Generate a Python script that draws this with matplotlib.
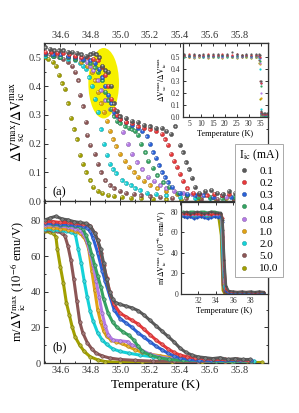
import matplotlib
matplotlib.use('Agg')
import matplotlib.pyplot as plt
import matplotlib.colors as mcolors
import matplotlib.transforms as mtransforms
from matplotlib.patches import Ellipse
from matplotlib.lines import Line2D
from matplotlib.ticker import MultipleLocator

plt.rcParams['font.family'] = ['Liberation Serif', 'DejaVu Serif']
plt.rcParams['mathtext.fontset'] = 'stix'

# legend labels / colours
labels = ['0.1', '0.2', '0.3', '0.4', '0.8', '1.0', '2.0', '5.0', '10.0']
colors = ['#5a5a5a', '#e8383a', '#2a62d8', '#34a462', '#b57ae6',
          '#e0a214', '#14d2d8', '#8c5656', '#a2a000']

# ---- panel (a): dV_sc/dV_ic vs T ----
a_t_01 = [34.50, 34.53, 34.56, 34.59, 34.62, 34.65, 34.68, 34.71, 34.74, 34.77,
          34.80, 34.82, 34.84, 34.86, 34.88, 34.90, 34.92, 34.94, 34.96, 34.98,
          35.00, 35.04, 35.08, 35.12, 35.16, 35.20, 35.24, 35.28, 35.31, 35.34,
          35.37, 35.40, 35.42, 35.44, 35.46, 35.48, 35.50, 35.53, 35.57, 35.61,
          35.65, 35.69, 35.73, 35.77, 35.81, 35.85]
a_v_01 = [0.535, 0.53, 0.525, 0.525, 0.525, 0.52, 0.52, 0.515, 0.51, 0.505,
          0.51, 0.515, 0.51, 0.50, 0.47, 0.455, 0.45, 0.40, 0.34, 0.315,
          0.295, 0.29, 0.28, 0.275, 0.265, 0.26, 0.255, 0.255, 0.245, 0.235,
          0.26, 0.195, 0.17, 0.135, 0.11, 0.08, 0.05, 0.03, 0.035, 0.04,
          0.03, 0.025, 0.035, 0.03, 0.035, 0.03]
a_t_02 = [34.50, 34.54, 34.58, 34.62, 34.66, 34.70, 34.74, 34.78, 34.82, 34.85,
          34.88, 34.90, 34.92, 34.94, 34.96, 34.98, 35.00, 35.04, 35.08, 35.12,
          35.16, 35.20, 35.24, 35.28, 35.30, 35.32, 35.34, 35.36, 35.38, 35.40,
          35.42, 35.45, 35.49, 35.53, 35.58, 35.63, 35.68, 35.73, 35.78, 35.83]
a_v_02 = [0.52, 0.52, 0.515, 0.515, 0.51, 0.505, 0.50, 0.50, 0.495, 0.49,
          0.465, 0.44, 0.40, 0.355, 0.32, 0.30, 0.285, 0.275, 0.27, 0.26,
          0.255, 0.25, 0.245, 0.235, 0.215, 0.195, 0.165, 0.14, 0.12, 0.095,
          0.07, 0.045, 0.03, 0.025, 0.02, 0.025, 0.02, 0.025, 0.02, 0.025]
a_t_03 = [34.50, 34.55, 34.60, 34.65, 34.70, 34.75, 34.80, 34.83, 34.86, 34.88,
          34.90, 34.92, 34.94, 34.96, 34.98, 35.00, 35.04, 35.08, 35.12, 35.15,
          35.18, 35.20, 35.22, 35.24, 35.26, 35.28, 35.30, 35.32, 35.35, 35.40,
          35.45, 35.50, 35.56, 35.62, 35.68, 35.74, 35.80, 35.86]
a_v_03 = [0.515, 0.51, 0.51, 0.505, 0.50, 0.495, 0.49, 0.48, 0.46, 0.43,
          0.40, 0.37, 0.34, 0.31, 0.295, 0.285, 0.275, 0.265, 0.255, 0.245,
          0.225, 0.20, 0.17, 0.15, 0.125, 0.10, 0.083, 0.066, 0.05, 0.03,
          0.025, 0.02, 0.02, 0.015, 0.02, 0.015, 0.02, 0.015]
a_t_04 = [34.50, 34.55, 34.60, 34.65, 34.70, 34.75, 34.80, 34.83, 34.85, 34.88,
          34.90, 34.92, 34.94, 34.96, 34.98, 35.00, 35.03, 35.06, 35.08, 35.10,
          35.12, 35.14, 35.17, 35.19, 35.22, 35.25, 35.29, 35.33, 35.39, 35.45,
          35.52, 35.60, 35.68, 35.76, 35.84]
a_v_04 = [0.51, 0.505, 0.50, 0.50, 0.495, 0.49, 0.48, 0.465, 0.45, 0.42,
          0.38, 0.35, 0.32, 0.295, 0.28, 0.27, 0.26, 0.255, 0.25, 0.245,
          0.23, 0.20, 0.17, 0.14, 0.115, 0.09, 0.066, 0.05, 0.03, 0.02,
          0.015, 0.015, 0.01, 0.015, 0.01]
a_t_08 = [34.50, 34.55, 34.60, 34.65, 34.70, 34.74, 34.78, 34.80, 34.82, 34.85,
          34.87, 34.90, 34.93, 34.96, 34.99, 35.02, 35.05, 35.08, 35.11, 35.15,
          35.19, 35.23, 35.27, 35.31, 35.36, 35.42, 35.48, 35.55, 35.63, 35.71,
          35.79, 35.87]
a_v_08 = [0.51, 0.51, 0.505, 0.50, 0.50, 0.495, 0.485, 0.47, 0.455, 0.42,
          0.385, 0.35, 0.32, 0.30, 0.275, 0.24, 0.20, 0.165, 0.135, 0.11,
          0.085, 0.07, 0.055, 0.045, 0.035, 0.03, 0.025, 0.02, 0.015, 0.015,
          0.015, 0.015]
a_t_10 = [34.50, 34.55, 34.60, 34.65, 34.70, 34.74, 34.78, 34.81, 34.83, 34.85,
          34.87, 34.89, 34.91, 34.93, 34.95, 34.97, 35.00, 35.03, 35.06, 35.09,
          35.12, 35.16, 35.20, 35.25, 35.31, 35.38, 35.45, 35.53, 35.62, 35.71,
          35.80, 35.88]
a_v_10 = [0.51, 0.51, 0.505, 0.50, 0.495, 0.485, 0.47, 0.45, 0.42, 0.38,
          0.34, 0.31, 0.28, 0.245, 0.215, 0.19, 0.165, 0.14, 0.12, 0.10,
          0.085, 0.07, 0.055, 0.045, 0.035, 0.025, 0.02, 0.015, 0.015, 0.012,
          0.012, 0.012]
a_t_20 = [34.50, 34.55, 34.60, 34.65, 34.70, 34.73, 34.75, 34.77, 34.79, 34.81,
          34.83, 34.85, 34.87, 34.89, 34.91, 34.93, 34.95, 34.97, 35.01, 35.04,
          35.07, 35.10, 35.13, 35.18, 35.24, 35.31, 35.40, 35.50, 35.60, 35.70,
          35.80, 35.90]
a_v_20 = [0.505, 0.505, 0.50, 0.495, 0.49, 0.48, 0.47, 0.46, 0.43, 0.40,
          0.355, 0.31, 0.25, 0.20, 0.16, 0.13, 0.11, 0.097, 0.073, 0.062,
          0.055, 0.045, 0.038, 0.03, 0.025, 0.02, 0.015, 0.012, 0.01, 0.01,
          0.01, 0.01]
a_t_50 = [34.50, 34.53, 34.56, 34.59, 34.62, 34.65, 34.68, 34.70, 34.72, 34.73,
          34.75, 34.77, 34.78, 34.80, 34.83, 34.85, 34.87, 34.90, 34.93, 34.96,
          35.00, 35.04, 35.09, 35.14, 35.20, 35.27, 35.35, 35.44, 35.54, 35.65,
          35.76, 35.87]
a_v_50 = [0.51, 0.51, 0.505, 0.50, 0.495, 0.485, 0.47, 0.45, 0.42, 0.37,
          0.33, 0.275, 0.23, 0.195, 0.165, 0.13, 0.10, 0.073, 0.055, 0.045,
          0.035, 0.03, 0.025, 0.02, 0.017, 0.015, 0.012, 0.01, 0.008, 0.008,
          0.008, 0.008]
a_t_100 = [34.50, 34.52, 34.55, 34.57, 34.59, 34.61, 34.63, 34.65, 34.67, 34.69,
           34.71, 34.73, 34.75, 34.77, 34.80, 34.82, 34.85, 34.88, 34.92, 34.96,
           35.01, 35.07, 35.14, 35.22, 35.31, 35.41, 35.52, 35.64, 35.76, 35.88]
a_v_100 = [0.50, 0.495, 0.485, 0.47, 0.44, 0.41, 0.39, 0.34, 0.29, 0.25,
           0.215, 0.16, 0.13, 0.10, 0.073, 0.05, 0.035, 0.028, 0.022, 0.018,
           0.015, 0.012, 0.01, 0.008, 0.006, 0.005, 0.005, 0.005, 0.005, 0.005]

# inset of (a), wide temperature range
ia_t = [3, 5, 7, 9, 11, 13, 15, 17, 19, 21, 23, 25, 27, 29, 31, 33,
        34.2, 34.7, 35.0, 35.3, 35.7, 36.3, 36.9, 37.5]
ia_v_01 = [0.53, 0.52, 0.53, 0.52, 0.53, 0.52, 0.53, 0.53, 0.52, 0.53, 0.54, 0.53, 0.52, 0.53, 0.53, 0.53,
           0.53, 0.52, 0.30, 0.05, 0.03, 0.03, 0.035, 0.03]
ia_v_02 = [0.52, 0.53, 0.52, 0.52, 0.52, 0.53, 0.52, 0.52, 0.53, 0.52, 0.52, 0.53, 0.52, 0.52, 0.52, 0.52,
           0.52, 0.50, 0.28, 0.04, 0.025, 0.02, 0.025, 0.02]
ia_v_03 = [0.52, 0.51, 0.52, 0.52, 0.51, 0.52, 0.51, 0.52, 0.51, 0.52, 0.51, 0.52, 0.51, 0.52, 0.51, 0.52,
           0.51, 0.49, 0.28, 0.03, 0.02, 0.02, 0.015, 0.02]
ia_v_04 = [0.51, 0.51, 0.51, 0.52, 0.51, 0.51, 0.51, 0.51, 0.52, 0.51, 0.51, 0.51, 0.52, 0.51, 0.51, 0.51,
           0.51, 0.47, 0.26, 0.02, 0.015, 0.01, 0.015, 0.01]
ia_v_08 = [0.51, 0.51, 0.50, 0.51, 0.51, 0.50, 0.51, 0.51, 0.50, 0.51, 0.51, 0.50, 0.51, 0.51, 0.50, 0.51,
           0.50, 0.45, 0.20, 0.02, 0.015, 0.015, 0.015, 0.015]
ia_v_10 = [0.51, 0.50, 0.51, 0.50, 0.51, 0.51, 0.50, 0.51, 0.50, 0.51, 0.50, 0.51, 0.51, 0.50, 0.51, 0.50,
           0.50, 0.44, 0.16, 0.015, 0.012, 0.012, 0.012, 0.012]
ia_v_20 = [0.50, 0.51, 0.50, 0.50, 0.50, 0.51, 0.50, 0.50, 0.51, 0.50, 0.50, 0.50, 0.51, 0.50, 0.50, 0.50,
           0.49, 0.40, 0.07, 0.01, 0.01, 0.01, 0.01, 0.01]
ia_v_50 = [0.51, 0.50, 0.50, 0.51, 0.50, 0.50, 0.51, 0.50, 0.50, 0.51, 0.50, 0.50, 0.50, 0.51, 0.50, 0.50,
           0.48, 0.30, 0.03, 0.01, 0.008, 0.008, 0.008, 0.008]
ia_v_100 = [0.50, 0.50, 0.49, 0.50, 0.50, 0.49, 0.50, 0.50, 0.49, 0.50, 0.50, 0.49, 0.50, 0.50, 0.49, 0.50,
            0.45, 0.15, 0.015, 0.008, 0.005, 0.005, 0.005, 0.005]

# ---- panel (b): m/dV_ic vs T ----
b_t_01 = [34.50, 34.53, 34.57, 34.61, 34.65, 34.69, 34.73, 34.77, 34.80, 34.83,
          34.85, 34.87, 34.89, 34.91, 34.93, 34.95, 34.97, 35.00, 35.04, 35.08,
          35.12, 35.16, 35.20, 35.24, 35.28, 35.32, 35.36, 35.40, 35.44, 35.48,
          35.52, 35.57, 35.62, 35.67, 35.72, 35.77, 35.82, 35.87]
b_m_01 = [80.5, 81.5, 82.5, 81, 80.5, 79.5, 79, 78.5, 77, 73,
          69, 64, 56, 47, 40, 36, 34, 33, 32, 31,
          29.5, 27, 24, 21, 18, 15, 12, 8.5, 6, 4.5,
          3.5, 3, 2.5, 3, 2, 2.5, 2, 2]
b_t_02 = [34.50, 34.55, 34.60, 34.65, 34.70, 34.75, 34.78, 34.80, 34.83, 34.85,
          34.87, 34.89, 34.91, 34.93, 34.96, 35.00, 35.04, 35.08, 35.12, 35.16,
          35.20, 35.24, 35.28, 35.32, 35.36, 35.40, 35.45, 35.50, 35.56, 35.63,
          35.70, 35.78, 35.86]
b_m_02 = [79.5, 79.5, 79, 79, 78.5, 78, 78, 77, 73, 69,
          62, 55, 48, 40, 33, 28, 26, 24, 22, 19,
          16, 13, 10.5, 8, 6, 4.5, 3.5, 3, 2.5, 2,
          2, 2, 1.5]
b_t_03 = [34.50, 34.55, 34.60, 34.65, 34.70, 34.75, 34.78, 34.80, 34.82, 34.85,
          34.88, 34.90, 34.93, 34.96, 35.00, 35.04, 35.08, 35.12, 35.16, 35.20,
          35.24, 35.28, 35.32, 35.36, 35.40, 35.46, 35.53, 35.61, 35.70, 35.80,
          35.88]
b_m_03 = [78.5, 78.5, 78, 78, 77.5, 77, 76, 74, 70, 62,
          52, 46, 38, 30, 25, 22.5, 20, 17, 14.5, 12,
          9.5, 7.5, 5.5, 4, 3, 2, 1.5, 1.5, 1.5, 1.5,
          1.5]
b_t_04 = [34.50, 34.55, 34.60, 34.65, 34.70, 34.73, 34.75, 34.77, 34.79, 34.81,
          34.83, 34.85, 34.87, 34.89, 34.92, 34.95, 34.98, 35.02, 35.06, 35.09,
          35.12, 35.15, 35.20, 35.26, 35.33, 35.42, 35.52, 35.64, 35.76, 35.88]
b_m_04 = [78.5, 78, 77.5, 77.5, 77, 76.5, 75.5, 72, 67.5, 61,
          55, 49, 43, 36, 28, 23, 20, 17.5, 15.5, 13,
          9.5, 6.5, 4.5, 3, 2, 1.5, 1.5, 1, 1, 1]
b_t_08 = [34.50, 34.55, 34.60, 34.65, 34.70, 34.73, 34.76, 34.78, 34.80, 34.82,
          34.84, 34.86, 34.88, 34.90, 34.92, 34.95, 35.00, 35.05, 35.08, 35.11,
          35.15, 35.20, 35.26, 35.33, 35.42, 35.52, 35.64, 35.76, 35.88]
b_m_08 = [77.5, 77.5, 77, 76.5, 75.5, 74.5, 72, 68, 62, 55,
          46, 37, 28, 21, 16, 13, 12.5, 12, 10, 9.5,
          7, 5, 3.5, 2.5, 2, 1.5, 1, 1, 1]
b_t_10 = [34.50, 34.55, 34.60, 34.65, 34.70, 34.73, 34.75, 34.77, 34.79, 34.81,
          34.83, 34.85, 34.87, 34.89, 34.91, 34.94, 34.97, 35.01, 35.05, 35.10,
          35.15, 35.20, 35.27, 35.35, 35.45, 35.57, 35.70, 35.85]
b_m_10 = [76.5, 76, 75.5, 75, 74, 73, 71.5, 69, 64, 52,
          41, 30, 23, 18, 15, 13, 12, 11, 9.5, 7.5,
          6, 5, 4, 3, 2, 1.5, 1, 1]
b_t_20 = [34.50, 34.55, 34.60, 34.64, 34.67, 34.70, 34.72, 34.74, 34.76, 34.78,
          34.80, 34.82, 34.85, 34.88, 34.91, 34.95, 35.00, 35.06, 35.13, 35.22,
          35.33, 35.46, 35.60, 35.75, 35.90]
b_m_20 = [75.5, 75, 74.5, 74, 73.5, 72.5, 64, 56, 46, 37,
          29, 23.5, 17, 13, 10.5, 8, 6.5, 5.5, 4.5, 3.5,
          2.5, 2, 1.5, 1, 1]
b_t_50 = [34.50, 34.54, 34.58, 34.61, 34.63, 34.65, 34.67, 34.69, 34.71, 34.73,
          34.75, 34.78, 34.81, 34.84, 34.88, 34.93, 35.00, 35.10, 35.22, 35.36,
          35.52, 35.70, 35.88]
b_m_50 = [75, 74.5, 74, 73, 71.5, 66, 58, 47, 35, 23,
          17, 11.5, 8, 5.5, 4, 2.8, 2, 1.5, 1, 1,
          0.8, 0.8, 0.8]
b_t_100 = [34.50, 34.53, 34.55, 34.57, 34.58, 34.60, 34.62, 34.64, 34.66, 34.68,
           34.70, 34.73, 34.76, 34.80, 34.85, 34.90, 35.00, 35.15, 35.35, 35.55,
           35.75, 35.95]
b_m_100 = [74, 73.5, 73, 71, 64, 54, 45, 34, 27, 20,
           14.5, 10, 6.5, 3.5, 1.8, 0.8, 0.4, 0.3, 0.3, 0.3,
           0.3, 0.3]

# inset of (b)
ib_t = [30.3, 30.7, 31.1, 31.5, 31.9, 32.3, 32.7, 33.1, 33.5, 33.9, 34.3, 34.6,
        34.8, 35.0, 35.2, 35.5, 36.0, 36.5, 37.0, 37.5, 38.0, 38.5, 39.0, 39.5]
ib_m_01 = [79, 80, 78, 79, 80, 79, 78, 79, 80, 79, 79, 79, 72, 33, 8, 3, 2.5, 2, 2.5, 2, 2.5, 2, 2.5, 2]
ib_m_02 = [78, 78, 77, 78, 78, 77, 78, 78, 77, 78, 78, 78, 74, 27, 5, 2.5, 2, 2, 2, 2, 2, 1.5, 2, 2]
ib_m_03 = [75, 74, 75, 73, 74, 75, 74, 73, 74, 75, 74, 76, 70, 22, 3, 1.5, 1.5, 1.5, 1.5, 1.5, 1.5, 1.5, 1.5, 1.5]
ib_m_04 = [80, 79, 80, 80, 79, 80, 80, 79, 80, 80, 79, 78, 62, 17, 3, 1.5, 1.5, 1, 1, 1, 1, 1, 1, 1]
ib_m_08 = [77, 77, 77, 77, 77, 77, 77, 77, 77, 77, 77, 76, 56, 12, 5, 1.5, 1, 1, 1, 1, 1, 1, 1, 1]
ib_m_10 = [77, 77, 77, 77, 77, 77, 77, 77, 77, 77, 77, 75, 55, 10, 6, 2, 1, 1, 1, 1, 1, 1, 1, 1]
ib_m_20 = [76, 76, 76, 76, 76, 76, 76, 76, 76, 76, 76, 74, 35, 6.5, 4, 2, 1, 1, 1, 1, 1, 1, 1, 1]
ib_m_50 = [76, 76, 76, 76, 76, 76, 76, 76, 76, 76, 76, 73, 9, 2, 1.5, 1, 0.8, 0.8, 0.8, 0.8, 0.8, 0.8, 0.8, 0.8]
ib_m_100 = [75, 75, 75, 75, 75, 75, 75, 75, 75, 75, 75, 57, 3.5, 0.4, 0.3, 0.3, 0.3, 0.3, 0.3, 0.3, 0.3, 0.3, 0.3, 0.3]

a_series = [(a_t_01, a_v_01), (a_t_02, a_v_02), (a_t_03, a_v_03), (a_t_04, a_v_04), (a_t_08, a_v_08),
            (a_t_10, a_v_10), (a_t_20, a_v_20), (a_t_50, a_v_50), (a_t_100, a_v_100)]
b_series = [(b_t_01, b_m_01), (b_t_02, b_m_02), (b_t_03, b_m_03), (b_t_04, b_m_04), (b_t_08, b_m_08),
            (b_t_10, b_m_10), (b_t_20, b_m_20), (b_t_50, b_m_50), (b_t_100, b_m_100)]
ia_series = [ia_v_01, ia_v_02, ia_v_03, ia_v_04, ia_v_08, ia_v_10, ia_v_20, ia_v_50, ia_v_100]
ib_series = [ib_m_01, ib_m_02, ib_m_03, ib_m_04, ib_m_08, ib_m_10, ib_m_20, ib_m_50, ib_m_100]


def mix(c, other, f):
    r, g, b = mcolors.to_rgb(c)
    o = mcolors.to_rgb(other)
    return (r + (o[0] - r) * f, g + (o[1] - g) * f, b + (o[2] - b) * f)


def balls(ax, x, y, c, ms, z=3):
    # shaded sphere look: body + small highlight up-left
    ax.plot(x, y, 'o', ms=ms, mfc=c, mec=mix(c, 'black', 0.35), mew=0.3, ls='none', zorder=z)
    hl = mtransforms.offset_copy(ax.transData, fig=fig, x=-ms * 0.15, y=ms * 0.15, units='points')
    ax.plot(x, y, 'o', ms=ms * 0.4, mfc=mix(c, 'white', 0.6), mec='none', ls='none',
            transform=hl, zorder=z + 0.1)


def style(ax, size, major=3.0, minor=1.6):
    for s in ax.spines.values():
        s.set_linewidth(0.9)
        s.set_color('#333333')
    ax.tick_params(which='both', direction='in', top=True, right=True, width=0.7,
                   labelsize=size, colors='#333333', pad=2)
    ax.tick_params(which='major', length=major)
    ax.tick_params(which='minor', length=minor)


fig = plt.figure(figsize=(2.99, 4.13), dpi=100)
ax1 = fig.add_axes([0.147, 0.513, 0.749, 0.383])
ax2 = fig.add_axes([0.147, 0.121, 0.749, 0.392])

# panel (a)
ax1.add_patch(Ellipse((34.89, 0.41), 0.205, 0.245, facecolor='#f6f000', edgecolor='none', zorder=1))
for i in range(len(labels) - 1, -1, -1):
    t, v = a_series[i]
    balls(ax1, t, v, colors[i], 3.0, z=3 + (9 - i) * 0.2)
ax1.set_xlim(34.49, 35.99)
ax1.set_ylim(0, 0.55)
ax1.xaxis.set_major_locator(MultipleLocator(0.2))
ax1.xaxis.set_minor_locator(MultipleLocator(0.1))
ax1.yaxis.set_major_locator(MultipleLocator(0.1))
ax1.yaxis.set_minor_locator(MultipleLocator(0.05))
style(ax1, 7.5)
ax1.tick_params(labeltop=True, labelbottom=False)
ax1.set_yticks([0.0, 0.1, 0.2, 0.3, 0.4, 0.5])
ax1.set_yticklabels(['0.0', '0.1', '0.2', '0.3', '0.4', '0.5'])
ax1.set_ylabel(r'$\Delta\mathrm{V}^{\mathrm{max}}_{\mathrm{sc}}/\Delta\mathrm{V}^{\mathrm{max}}_{\mathrm{ic}}$',
               fontsize=10, labelpad=1)
ax1.text(0.04, 0.055, '(a)', transform=ax1.transAxes, fontsize=9, va='center', ha='left')

# panel (b)
for i in range(len(labels) - 1, -1, -1):
    t, m = b_series[i]
    ax2.plot(t, m, '-', color=colors[i], lw=2.2, zorder=3 + (9 - i) * 0.2, solid_capstyle='round')
    ax2.plot(t, m, 'o', ms=2.5, mfc=mix(colors[i], 'white', 0.2), mec=mix(colors[i], 'black', 0.25),
             mew=0.4, ls='none', zorder=3.05 + (9 - i) * 0.2)
ax2.set_xlim(34.49, 35.99)
ax2.set_ylim(0, 91)
ax2.xaxis.set_major_locator(MultipleLocator(0.2))
ax2.xaxis.set_minor_locator(MultipleLocator(0.1))
ax2.yaxis.set_major_locator(MultipleLocator(20))
ax2.yaxis.set_minor_locator(MultipleLocator(10))
style(ax2, 7.5)
ax2.set_xticks([34.6, 34.8, 35.0, 35.2, 35.4, 35.6, 35.8])
ax2.set_xticklabels(['34.6', '34.8', '35.0', '35.2', '35.4', '35.6', '35.8'])
ax2.set_xlabel('Temperature (K)', fontsize=9.5, labelpad=3)
ax2.set_ylabel(r'm/$\Delta\mathrm{V}^{\mathrm{max}}_{\mathrm{ic}}$ ($10^{-6}$ emu/V)', fontsize=9, labelpad=2)
ax2.text(0.04, 0.10, '(b)', transform=ax2.transAxes, fontsize=9, va='center', ha='left')

# inset (a)
axi1 = fig.add_axes([0.612, 0.717, 0.284, 0.179], zorder=5)
for i in range(len(labels) - 1, -1, -1):
    axi1.plot(ia_t, ia_series[i], 'o', ms=1.6, color=colors[i], mec='none', ls='none')
axi1.set_xlim(2.5, 38)
axi1.set_ylim(0, 0.62)
axi1.xaxis.set_major_locator(MultipleLocator(5))
axi1.yaxis.set_major_locator(MultipleLocator(0.1))
style(axi1, 5.5, major=2.0, minor=1.0)
axi1.set_yticks([0.0, 0.1, 0.2, 0.3, 0.4, 0.5])
axi1.set_yticklabels(['0.0', '0.1', '0.2', '0.3', '0.4', '0.5'])
axi1.set_xticks([5, 10, 15, 20, 25, 30, 35])
axi1.set_xlabel('Temperature (K)', fontsize=6, labelpad=1.5)
axi1.set_ylabel(r'$\Delta\mathrm{V}^{\mathrm{max}}_{\mathrm{sc}}/\Delta\mathrm{V}^{\mathrm{max}}_{\mathrm{ic}}$',
                fontsize=5.5, labelpad=1)

# inset (b)
axi2 = fig.add_axes([0.605, 0.288, 0.291, 0.222], zorder=5)
for i in range(len(labels) - 1, -1, -1):
    axi2.plot(ib_t, ib_series[i], '-', color=colors[i], lw=1.6)
    axi2.plot(ib_t, ib_series[i], 'o', ms=1.5, color=mix(colors[i], 'black', 0.2), mec='none', ls='none')
axi2.set_xlim(30, 40)
axi2.set_ylim(0, 89)
axi2.xaxis.set_major_locator(MultipleLocator(2))
axi2.yaxis.set_major_locator(MultipleLocator(20))
style(axi2, 5.5, major=2.0, minor=1.0)
axi2.set_xticks([32, 34, 36, 38])
axi2.set_xlabel('Temperature (K)', fontsize=6, labelpad=1.5)
axi2.set_ylabel(r'm/$\Delta\mathrm{V}^{\mathrm{max}}_{\mathrm{ic}}$ ($10^{-6}$ emu/V)', fontsize=5.5, labelpad=1)

# legend
handles = [Line2D([], [], ls='none', marker='o', ms=3, mfc=c, mec=mix(c, 'black', 0.35), mew=0.3)
           for c in colors]
leg = fig.legend(handles, labels, title=r'I$_{\mathrm{ic}}$ (mA)', loc='upper left',
                 bbox_to_anchor=(0.786, 0.651), fontsize=8, title_fontsize=8.5,
                 frameon=True, fancybox=False, edgecolor='#aaaaaa', framealpha=1,
                 handlelength=0.8, handletextpad=1.0, labelspacing=0.22, borderpad=0.35,
                 borderaxespad=0)
leg.get_frame().set_linewidth(0.7)
leg.set_zorder(10)

fig.savefig('out.png', dpi=100)
